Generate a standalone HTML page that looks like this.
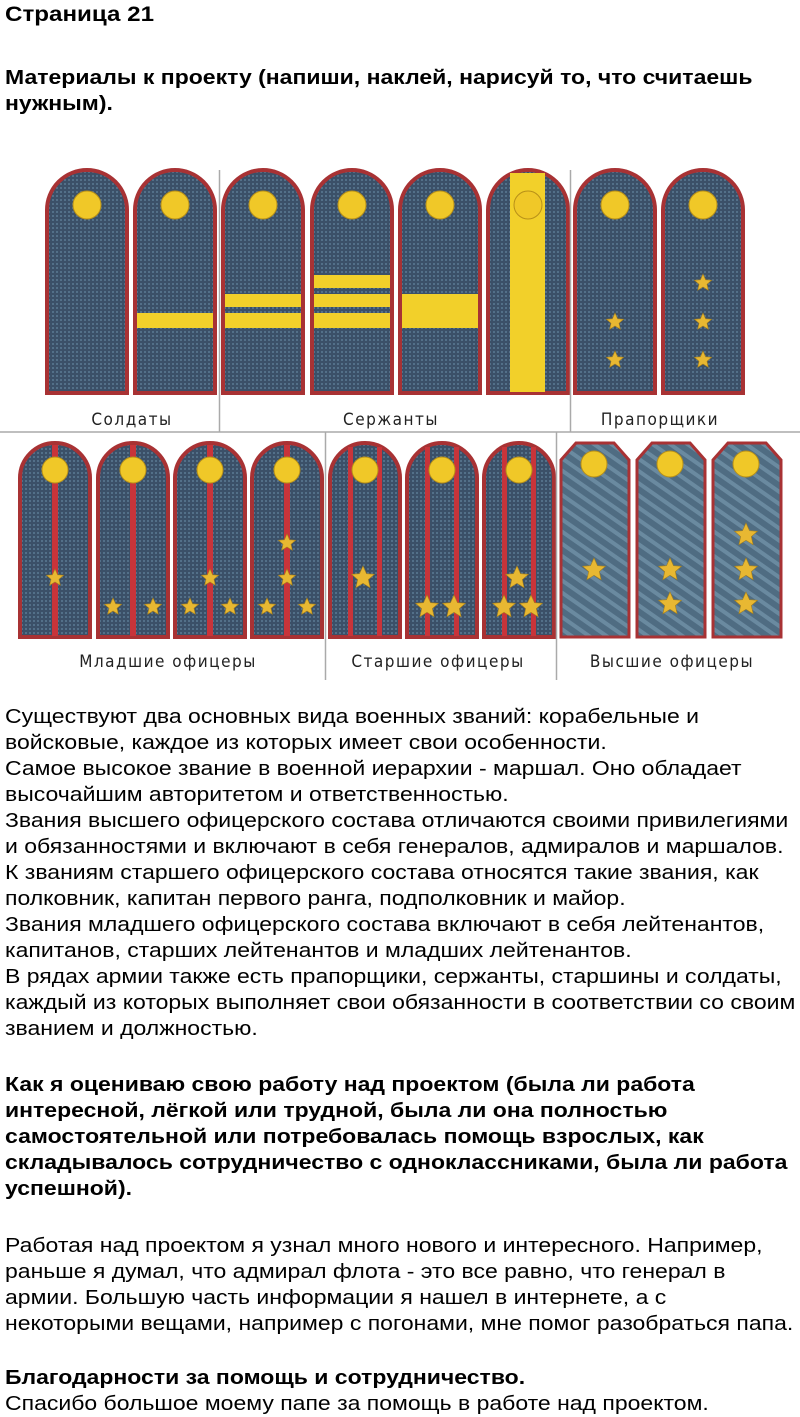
<!DOCTYPE html>
<html><head><meta charset="utf-8"><style>
body{margin:0;background:#fff;width:800px;height:1416px;position:relative;overflow:hidden;font-family:"Liberation Sans",Arial,sans-serif;color:#000}
.t{position:absolute;left:5px;white-space:nowrap;font-size:20px;line-height:26px;transform:scaleX(1.15);transform-origin:0 0}
.b{font-weight:bold}
svg{position:absolute;left:0;top:0}
</style></head><body>
<div class="t b" style="top:2px;font-size:21px">Страница 21</div>
<div class="t b" style="top:65px">Материалы к проекту (напиши, наклей, нарисуй то, что считаешь<br>нужным).</div>

<svg width="800" height="700" viewBox="0 0 800 700">
<defs>
<pattern id="dots" width="4" height="4" patternUnits="userSpaceOnUse"><rect width="4" height="4" fill="#3b5068"/><circle cx="2" cy="2" r="1" fill="#5b7a94"/></pattern>
<pattern id="gen" width="10" height="10" patternUnits="userSpaceOnUse" patternTransform="rotate(35)"><rect width="10" height="10" fill="#4f6c82"/><rect width="10" height="4" fill="#6a8aa0"/></pattern>
<polygon id="st" points="0,-9 2.6,-3.2 8.6,-2.8 4,1.2 5.3,7.3 0,4 -5.3,7.3 -4,1.2 -8.6,-2.8 -2.6,-3.2" fill="#e8b832" stroke="#a8801a" stroke-width="0.6"/>
<polygon id="sb" points="0,-12 3.5,-4.3 11.4,-3.7 5.3,1.6 7.1,9.7 0,5.3 -7.1,9.7 -5.3,1.6 -11.4,-3.7 -3.5,-4.3" fill="#e8b832" stroke="#a8801a" stroke-width="0.6"/>
<path id="b1" d="M0,223 V40 A40,40 0 0 1 80,40 V223 Z" fill="url(#dots)" stroke="#a83234" stroke-width="4"/>
<path id="b2" d="M0,194 V35 A35,35 0 0 1 70,35 V194 Z" fill="url(#dots)" stroke="#a83234" stroke-width="4"/>
<path id="b3" d="M0,194 V17 L15,0 H53 L68,17 V194 Z" fill="url(#gen)" stroke="#a83234" stroke-width="3"/>
</defs>
<g transform="translate(47,170)"><use href="#b1"/></g>
<g transform="translate(135,170)"><use href="#b1"/><rect x="2" y="143" width="76" height="15" fill="#f2d02a"/></g>
<g transform="translate(223,170)"><use href="#b1"/><rect x="2" y="124" width="76" height="13" fill="#f2d02a"/><rect x="2" y="143" width="76" height="15" fill="#f2d02a"/></g>
<g transform="translate(312,170)"><use href="#b1"/><rect x="2" y="105" width="76" height="13" fill="#f2d02a"/><rect x="2" y="124" width="76" height="13" fill="#f2d02a"/><rect x="2" y="143" width="76" height="15" fill="#f2d02a"/></g>
<g transform="translate(400,170)"><use href="#b1"/><rect x="2" y="124" width="76" height="34" fill="#f2d02a"/></g>
<g transform="translate(488,170)"><use href="#b1"/><rect x="22" y="3" width="35" height="219" fill="#f2d02a"/></g>
<g transform="translate(575,170)"><use href="#b1"/><use href="#st" x="40" y="152"/><use href="#st" x="40" y="190"/></g>
<g transform="translate(663,170)"><use href="#b1"/><use href="#st" x="40" y="113"/><use href="#st" x="40" y="152"/><use href="#st" x="40" y="190"/></g>
<g fill="#f0c828" stroke="#b89018" stroke-width="1">
<circle cx="87" cy="205" r="14"/><circle cx="175" cy="205" r="14"/><circle cx="263" cy="205" r="14"/><circle cx="352" cy="205" r="14"/><circle cx="440" cy="205" r="14"/><circle cx="528" cy="205" r="14"/><circle cx="615" cy="205" r="14"/><circle cx="703" cy="205" r="14"/>
</g>
<line x1="219.5" y1="170" x2="219.5" y2="432" stroke="#aaa" stroke-width="1.5"/>
<line x1="570.5" y1="170" x2="570.5" y2="432" stroke="#aaa" stroke-width="1.5"/>
<line x1="0" y1="432" x2="800" y2="432" stroke="#aaa" stroke-width="1.5"/>
<g font-family="'DejaVu Sans Condensed','Liberation Sans Narrow','Liberation Sans',sans-serif" font-size="17" fill="#222" text-anchor="middle" letter-spacing="1.5">
<text x="132" y="425">Солдаты</text><text x="391" y="425">Сержанты</text><text x="660" y="425">Прапорщики</text>
<text x="168" y="667">Младшие офицеры</text><text x="438" y="667">Старшие офицеры</text><text x="672" y="667">Высшие офицеры</text>
</g>
<g transform="translate(20,443)"><use href="#b2"/><rect x="32" y="2" width="6" height="191" fill="#c8343a"/><use href="#st" x="35" y="135"/></g>
<g transform="translate(98,443)"><use href="#b2"/><rect x="32" y="2" width="6" height="191" fill="#c8343a"/><use href="#st" x="15" y="164"/><use href="#st" x="55" y="164"/></g>
<g transform="translate(175,443)"><use href="#b2"/><rect x="32" y="2" width="6" height="191" fill="#c8343a"/><use href="#st" x="35" y="135"/><use href="#st" x="15" y="164"/><use href="#st" x="55" y="164"/></g>
<g transform="translate(252,443)"><use href="#b2"/><rect x="32" y="2" width="6" height="191" fill="#c8343a"/><use href="#st" x="35" y="100"/><use href="#st" x="35" y="135"/><use href="#st" x="15" y="164"/><use href="#st" x="55" y="164"/></g>
<g transform="translate(330,443)"><use href="#b2"/><rect x="18" y="4" width="5" height="189" fill="#c8343a"/><rect x="47" y="4" width="5" height="189" fill="#c8343a"/><use href="#sb" x="33" y="135"/></g>
<g transform="translate(407,443)"><use href="#b2"/><rect x="18" y="4" width="5" height="189" fill="#c8343a"/><rect x="47" y="4" width="5" height="189" fill="#c8343a"/><use href="#sb" x="20" y="164"/><use href="#sb" x="47" y="164"/></g>
<g transform="translate(484,443)"><use href="#b2"/><rect x="18" y="4" width="5" height="189" fill="#c8343a"/><rect x="47" y="4" width="5" height="189" fill="#c8343a"/><use href="#sb" x="33" y="135"/><use href="#sb" x="20" y="164"/><use href="#sb" x="47" y="164"/></g>
<g transform="translate(561,443)"><use href="#b3"/><use href="#sb" x="33" y="127"/></g>
<g transform="translate(637,443)"><use href="#b3"/><use href="#sb" x="33" y="127"/><use href="#sb" x="33" y="161"/></g>
<g transform="translate(713,443)"><use href="#b3"/><use href="#sb" x="33" y="92"/><use href="#sb" x="33" y="127"/><use href="#sb" x="33" y="161"/></g>
<g fill="#f0c828" stroke="#b89018" stroke-width="1">
<circle cx="55" cy="470" r="13"/><circle cx="133" cy="470" r="13"/><circle cx="210" cy="470" r="13"/><circle cx="287" cy="470" r="13"/><circle cx="365" cy="470" r="13"/><circle cx="442" cy="470" r="13"/><circle cx="519" cy="470" r="13"/><circle cx="594" cy="464" r="13"/><circle cx="670" cy="464" r="13"/><circle cx="746" cy="464" r="13"/>
</g>
<line x1="325.5" y1="432" x2="325.5" y2="680" stroke="#aaa" stroke-width="1.5"/>
<line x1="556.5" y1="432" x2="556.5" y2="680" stroke="#aaa" stroke-width="1.5"/>
</svg>

<div class="t" style="top:704px">Существуют два основных вида военных званий: корабельные и<br>войсковые, каждое из которых имеет свои особенности.<br>Самое высокое звание в военной иерархии - маршал. Оно обладает<br>высочайшим авторитетом и ответственностью.<br>Звания высшего офицерского состава отличаются своими привилегиями<br>и обязанностями и включают в себя генералов, адмиралов и маршалов.<br>К званиям старшего офицерского состава относятся такие звания, как<br>полковник, капитан первого ранга, подполковник и майор.<br>Звания младшего офицерского состава включают в себя лейтенантов,<br>капитанов, старших лейтенантов и младших лейтенантов.<br>В рядах армии также есть прапорщики, сержанты, старшины и солдаты,<br>каждый из которых выполняет свои обязанности в соответствии со своим<br>званием и должностью.</div>
<div class="t b" style="top:1072px">Как я оцениваю свою работу над проектом (была ли работа<br>интересной, лёгкой или трудной, была ли она полностью<br>самостоятельной или потребовалась помощь взрослых, как<br>складывалось сотрудничество с одноклассниками, была ли работа<br>успешной).</div>
<div class="t" style="top:1233px">Работая над проектом я узнал много нового и интересного. Например,<br>раньше я думал, что адмирал флота - это все равно, что генерал в<br>армии. Большую часть информации я нашел в интернете, а с<br>некоторыми вещами, например с погонами, мне помог разобраться папа.</div>
<div class="t b" style="top:1365px">Благодарности за помощь и сотрудничество.</div>
<div class="t" style="top:1391px">Спасибо большое моему папе за помощь в работе над проектом.</div>
</body></html>
